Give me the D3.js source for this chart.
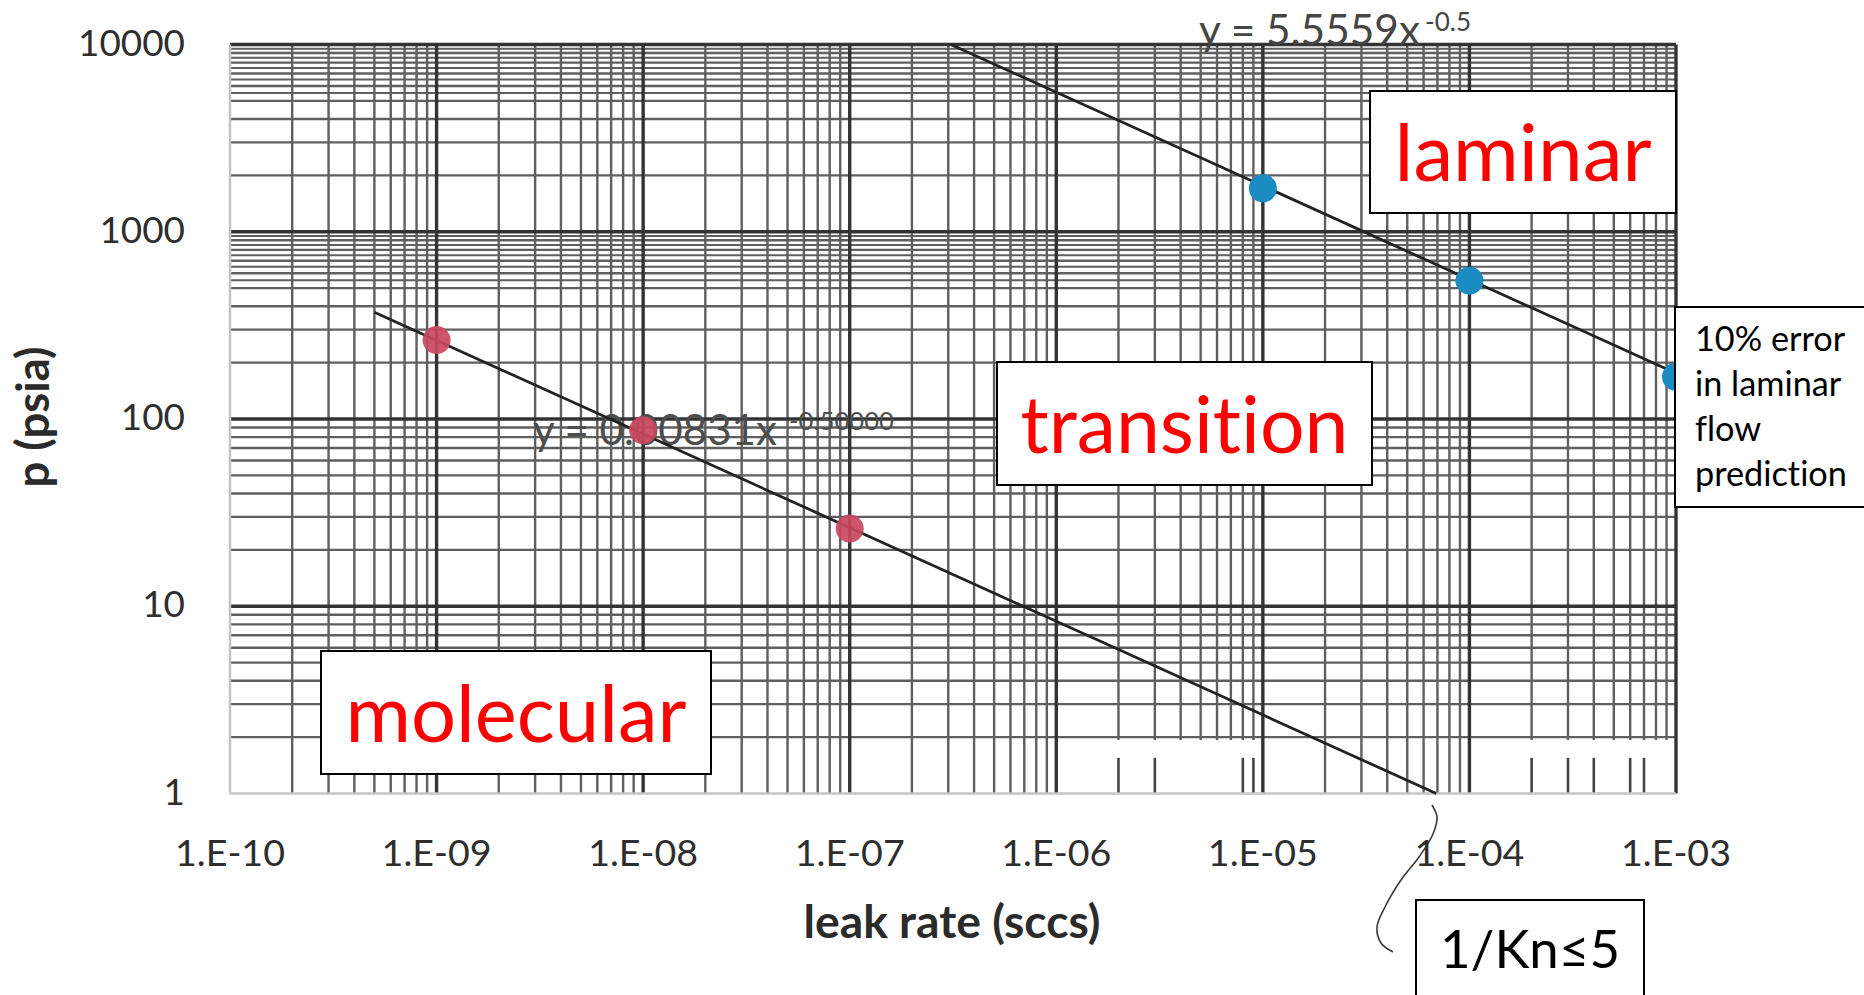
<!DOCTYPE html>
<html>
<head>
<meta charset="utf-8">
<title>Leak rate vs pressure</title>
<script src="https://cdn.jsdelivr.net/npm/d3@7/dist/d3.min.js"></script>
<style>
  html, body { margin: 0; padding: 0; background: #ffffff; }
  svg { display: block; font-family: "Lato", "Open Sans", sans-serif;
        font-variant-ligatures: none; font-feature-settings: "liga" 0, "clig" 0; }
</style>
</head>
<body>
<svg id="chart" width="1864" height="995"></svg>
<script>
// ---------- data ----------
const xTickValues = [1e-10, 1e-9, 1e-8, 1e-7, 1e-6, 1e-5, 1e-4, 1e-3];
const xTickLabels = ["1.E-10", "1.E-09", "1.E-08", "1.E-07", "1.E-06", "1.E-05", "1.E-04", "1.E-03"];
const yTickValues = [1, 10, 100, 1000, 10000];
const yTickLabels = ["1", "10", "100", "1000", "10000"];

// measured points
const molecularLeak = [1e-9, 1e-8, 1e-7];
const molecularPressure = [264, 87, 26];
const laminarLeak = [1e-5, 1e-4, 1e-3];
const laminarPressure = [1706, 548, 168];

// power-law fits  p = a * leak^b   (molecular, laminar)
const fitCoefficients = [0.00831, 5.5559];
const fitExponents = [-0.5, -0.5];
const fitLabels = ["y = 0.00831x", "y = 5.5559x"];
const fitExponentLabels = ["-0.50000", "-0.5"];
const molecularFitStart = 5e-10;
const laminarFitEnd = 1e-3;

// graph-paper rulings: multipliers inside each decade
const xMinor = [2, 3, 4, 5, 6, 7, 8, 9];
const yMinor = [2, 3, 4, 5, 6, 7, 8, 9];
const yExtra = [5.5, 6.5, 7.5, 8.5, 9.5];
const yExtraDecades = [100, 1000];
// decades where the 1–2 psia strip of the paper is worn away, and the rulings that survive as stubs
const bandDecades = [1e-6, 1e-4];
const bandStubs = [[2, 3, 8, 9], [2, 3, 4, 6, 7]];

const regionLabels = ["laminar", "transition", "molecular"];
const noteLines = ["10% error", "in laminar", "flow", "prediction"];
const knLabel = "1/Kn\u22645";

// ---------- layout ----------
const svg = d3.select("#chart");
const M = { left: 230, right: 1676, top: 44.5, bottom: 793.5 };
const x = d3.scaleLog().domain([1e-10, 1e-3]).range([M.left, M.right]);
const y = d3.scaleLog().domain([1, 1e4]).range([M.bottom, M.top]);

const minorColor = "#5f5f5f", majorColor = "#333333", edgeColor = "#c4c4c4";
const minorWidth = 2.4, majorWidth = 3.4;

function fitWidth(sel, target) {
  const w = sel.node().getComputedTextLength();
  const fs = parseFloat(sel.attr("font-size"));
  sel.attr("font-size", (fs * target / w).toFixed(2));
  return fs * target / w;
}

// ---------- grid ----------
const grid = svg.append("g").attr("class", "grid").attr("fill", "none");

function vline(v, p0, p1, color, w) {
  grid.append("line")
    .attr("x1", x(v)).attr("x2", x(v))
    .attr("y1", y(p0)).attr("y2", y(p1))
    .attr("stroke", color).attr("stroke-width", w);
}
function hline(p, color, w) {
  grid.append("line")
    .attr("x1", M.left).attr("x2", M.right)
    .attr("y1", y(p)).attr("y2", y(p))
    .attr("stroke", color).attr("stroke-width", w);
}

xTickValues.slice(0, -1).forEach(d => {
  const bi = bandDecades.findIndex(b => Math.abs(Math.log10(b) - Math.log10(d)) < 1e-6);
  xMinor.forEach(m => {
    const v = m * d;
    if (bi < 0) {
      vline(v, 1e4, 1, minorColor, minorWidth);
    } else {
      vline(v, 1e4, 1.93, minorColor, minorWidth);
      if (bandStubs[bi].includes(m)) vline(v, 1.55, 1, "#444", 2.6);
    }
  });
});

yTickValues.slice(0, -1).forEach(d => {
  yMinor.forEach(m => hline(m * d, minorColor, minorWidth));
  if (yExtraDecades.includes(d)) yExtra.forEach(m => hline(m * d, minorColor, 2));
});

// decade rulings
xTickValues.slice(1).forEach(v => vline(v, 1e4, 1, majorColor, majorWidth));
yTickValues.slice(1).forEach(p => hline(p, majorColor, majorWidth));
// worn left and bottom edges of the paper
vline(1e-10, 1e4, 1, edgeColor, 2.5);
grid.append("line")
  .attr("x1", M.left).attr("x2", M.right)
  .attr("y1", y(1)).attr("y2", y(1))
  .attr("stroke", edgeColor).attr("stroke-width", 2.5);

// ---------- fit equations (molecular one sits inside the grid) ----------
function equation(i, x0, base, supX, supBase, mainW, supW, color) {
  const g = svg.append("g").attr("fill", color);
  const t = g.append("text").attr("x", x0).attr("y", base)
    .attr("font-size", 42).text(fitLabels[i]);
  fitWidth(t, mainW);
  const s = g.append("text").attr("x", supX).attr("y", supBase)
    .attr("font-size", 27).text(fitExponentLabels[i]);
  fitWidth(s, supW);
}
equation(0, 533, 445, 789, 430, 244, 105, "#4d4d4d");

// ---------- fit lines ----------
const fitLine = d3.line().x(d => x(d[0])).y(d => y(d[1]));
const power = (i, v) => fitCoefficients[i] * Math.pow(v, fitExponents[i]);
// molecular fit runs until p = 1 psia, laminar fit starts at p = 10000 psia
const molecularEnd = Math.pow(1 / fitCoefficients[0], 1 / fitExponents[0]);
const laminarStart = Math.pow(1e4 / fitCoefficients[1], 1 / fitExponents[1]);
const fits = [
  [[molecularFitStart, power(0, molecularFitStart)], [molecularEnd, power(0, molecularEnd)]],
  [[laminarStart, power(1, laminarStart)], [laminarFitEnd, power(1, laminarFitEnd)]]
];
svg.append("g").selectAll("path").data(fits).join("path")
  .attr("d", fitLine)
  .attr("fill", "none").attr("stroke", "#222").attr("stroke-width", 2.8);

// ---------- points ----------
svg.append("g").selectAll("circle")
  .data(d3.zip(molecularLeak, molecularPressure)).join("circle")
  .attr("cx", d => x(d[0])).attr("cy", d => y(d[1])).attr("r", 14)
  .attr("fill", "#c9475f").attr("fill-opacity", 0.92);
svg.append("g").selectAll("circle")
  .data(d3.zip(laminarLeak, laminarPressure)).join("circle")
  .attr("cx", d => x(d[0])).attr("cy", d => y(d[1])).attr("r", 14)
  .attr("fill", "#1b8cc2");

// ---------- region labels ----------
const regionBoxes = [[1370, 91, 306, 122], [997, 362, 375, 123], [321, 651, 390, 123]];
const regionWidths = [257, 328, 341];
regionLabels.forEach((lab, i) => {
  const [bx, by, bw, bh] = regionBoxes[i];
  svg.append("rect").attr("x", bx).attr("y", by).attr("width", bw).attr("height", bh)
    .attr("fill", "#fff").attr("stroke", "#000").attr("stroke-width", 2);
  const t = svg.append("text").attr("x", bx + bw / 2).attr("y", by + bh - 32)
    .attr("text-anchor", "middle").attr("font-size", 80).attr("fill", "#ff0000").text(lab);
  fitWidth(t, regionWidths[i]);
});

// note box on the right edge
svg.append("rect").attr("x", 1675).attr("y", 307).attr("width", 200).attr("height", 200)
  .attr("fill", "#fff").attr("stroke", "#000").attr("stroke-width", 2);
const probe = svg.append("text").attr("font-size", 34).text(noteLines[3]);
const noteSize = fitWidth(probe, 152);
probe.remove();
svg.append("g").selectAll("text").data(noteLines).join("text")
  .attr("x", 1695).attr("y", (d, i) => 351 + i * 45)
  .attr("font-size", noteSize).attr("fill", "#000").text(d => d);

// Knudsen box below the axis
svg.append("rect").attr("x", 1416).attr("y", 900).attr("width", 228).attr("height", 110)
  .attr("fill", "#fff").attr("stroke", "#000").attr("stroke-width", 2);
const kn = svg.append("text").attr("x", 1530).attr("y", 968).attr("text-anchor", "middle")
  .attr("font-size", 54).attr("fill", "#000").text(knLabel);
fitWidth(kn, 180);

// leader from the end of the molecular fit down to the Knudsen box
const leader = [[1432, 805], [1437, 817], [1433, 834], [1419, 857], [1401, 880],
                [1385, 907], [1377, 927], [1381, 943], [1393, 952]];
svg.append("path")
  .attr("d", d3.line().curve(d3.curveCatmullRom)(leader))
  .attr("fill", "none").attr("stroke", "#3a3a3a").attr("stroke-width", 1.6);

// laminar fit equation above the grid
equation(1, 1199, 45, 1425, 31, 221, 46, "#454545");

// ---------- axes ----------
const xt = svg.append("g").attr("fill", "#2e2e2e").attr("text-anchor", "middle");
const xProbe = xt.append("text").attr("font-size", 38).text(xTickLabels[0]);
const xSize = fitWidth(xProbe, 110);
xProbe.remove();
xt.selectAll("text").data(xTickValues).join("text")
  .attr("x", d => x(d)).attr("y", 866)
  .attr("font-size", xSize).text((d, i) => xTickLabels[i]);

const yt = svg.append("g").attr("fill", "#2e2e2e").attr("text-anchor", "end");
const yProbe = yt.append("text").attr("font-size", 37).text(yTickLabels[4]);
const ySize = fitWidth(yProbe, 107);
yProbe.remove();
yt.selectAll("text").data(yTickValues).join("text")
  .attr("x", 185).attr("y", d => y(d) + 11)
  .attr("font-size", ySize).text((d, i) => yTickLabels[i]);

const xTitle = svg.append("text").attr("x", 952).attr("y", 938).attr("text-anchor", "middle")
  .attr("font-size", 44).attr("font-weight", 700).attr("fill", "#2b2b2b").text("leak rate (sccs)");
fitWidth(xTitle, 297);
const yTitle = svg.append("text").attr("transform", "translate(49,417) rotate(-90)")
  .attr("text-anchor", "middle").attr("font-size", 44).attr("font-weight", 700)
  .attr("fill", "#2b2b2b").text("p (psia)");
fitWidth(yTitle, 141);
</script>
</body>
</html>
